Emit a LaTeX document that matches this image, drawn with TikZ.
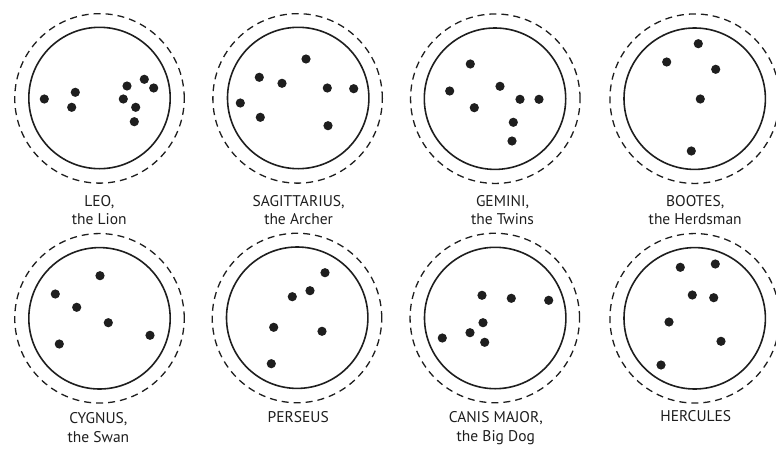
\documentclass[tikz,border=0pt]{standalone}
\usepackage{fontspec}
\setmainfont{PT Sans}
\definecolor{ink}{HTML}{1E1E1E}
\begin{document}
\begin{tikzpicture}[x=1pt,y=-1pt,
  ring/.style={circle,draw=ink,line width=1.6pt,minimum size=141.4pt,inner sep=0pt},
  halo/.style={circle,draw=ink,line width=1.3pt,dash pattern=on 7pt off 5pt,minimum size=169.5pt,inner sep=0pt},
  starpt/.style={circle,fill=ink,minimum size=9.2pt,inner sep=0pt},
  lbl/.style={font=\fontsize{15.5}{18.5}\selectfont,align=center,text=ink,anchor=base,inner sep=0pt}]
\useasboundingbox (0,0) rectangle (776,471);
% ---- row 1
\node[halo] (leoH) at (99.5,98.4) {};
\node[ring] (leo) at (99.5,98.0) {};
\foreach \x/\y [count=\i] in {44.3/99,75.3/92.3,71.7/107.3,127/86,123.3/99,144.3/79.3,153.7/88,135.7/107.3,134.3/121.7}
  \node[starpt] (leo-\i) at (\x,\y) {};
\node[lbl] (leoL) at (99.3,224.8) {LEO,\\the Lion};

\node[halo] (sagH) at (297.6,98.4) {};
\node[ring] (sag) at (298.2,98.0) {};
\foreach \x/\y [count=\i] in {306/59,259.3/77.3,282/83.3,327.3/88,353.7/88.7,240.3/103,260.3/117.3,328/125.7}
  \node[starpt] (sag-\i) at (\x,\y) {};
\node[lbl] (sagL) at (298.6,224.8) {SAGITTARIUS,\\the Archer};

\node[halo] (gemH) at (495.3,98.7) {};
\node[ring] (gem) at (495.0,98.7) {};
\foreach \x/\y [count=\i] in {470.3/64,449.7/91,500/86.3,520/99.3,539/99.3,474.3/107.7,513.3/122.3,512/141}
  \node[starpt] (gem-\i) at (\x,\y) {};
\node[lbl] (gemL) at (502.5,224.8) {GEMINI,\\the Twins};

\node[halo] (booH) at (694.7,98.7) {};
\node[ring] (boo) at (694.7,98.7) {};
\foreach \x/\y [count=\i] in {698.3/43.7,666.7/62,715.7/69.3,700.3/99,691.3/151}
  \node[starpt] (boo-\i) at (\x,\y) {};
\node[lbl] (booL) at (695.2,224.8) {BOOTES,\\the Herdsman};
% ---- row 2
\node[halo] (cygH) at (99.5,318.3) {};
\node[ring] (cyg) at (99.5,318.3) {};
\foreach \x/\y [count=\i] in {100/275.7,55.3/294,76.7/307.3,108.3/322.7,150/335.3,59.3/344}
  \node[starpt] (cyg-\i) at (\x,\y) {};
\node[lbl] (cygL) at (98.4,442.0) {CYGNUS,\\the Swan};

\node[halo] (perH) at (297.0,318.0) {};
\node[ring] (per) at (297.2,317.7) {};
\foreach \x/\y [count=\i] in {325/272.7,310/290.7,292.3/296.7,273.7/327.3,322/331.3,271.3/363.7}
  \node[starpt] (per-\i) at (\x,\y) {};
\node[lbl] (perL) at (298.2,422.6) {PERSEUS};

\node[halo] (canH) at (494.8,318.0) {};
\node[ring] (can) at (495.2,318.0) {};
\foreach \x/\y [count=\i] in {482/295.3,511.3/298.3,548.7/300.3,483/322.7,470/332.7,442.3/338,484.7/342.3}
  \node[starpt] (can-\i) at (\x,\y) {};
\node[lbl] (canL) at (495.8,441.0) {CANIS MAJOR,\\the Big Dog};

\node[halo] (herH) at (694.7,318.3) {};
\node[ring] (her) at (694.7,318.3) {};
\foreach \x/\y [count=\i] in {680.3/267.3,715.3/264,692.3/295,713.7/297.7,669/322,721/341.3,661/365}
  \node[starpt] (her-\i) at (\x,\y) {};
\node[lbl] (herL) at (695.8,421.8) {HERCULES};
\end{tikzpicture}
\end{document}
